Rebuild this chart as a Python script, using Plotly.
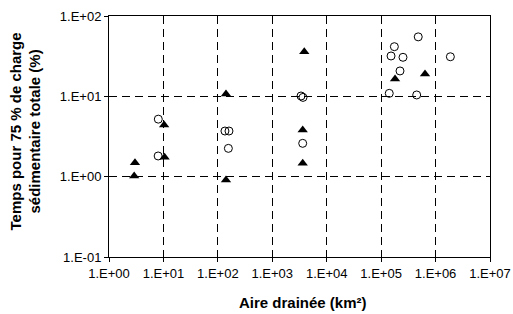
import plotly.graph_objects as go

# Triangles (filled)
tri_x = [2.9, 3.0, 10.5, 10.3, 141, 141, 3870, 3620, 3620, 1.8e5, 6.4e5]
tri_y = [1.02, 1.49, 1.74, 4.4, 10.7, 0.91, 36, 3.81, 1.47, 16.4, 19.0]

# Open circles
circ_x = [8.05, 8.0, 135, 160, 156, 3370, 3665, 3620, 4.8e5, 1.75e5, 1.52e5, 2.52e5, 1.87e6, 2.22e5, 1.41e5, 4.5e5]
circ_y = [5.2, 1.81, 3.7, 3.7, 2.25, 10.1, 9.7, 2.6, 55, 41.5, 31.8, 30.6, 31.1, 20.7, 10.9, 10.4]

x_tickvals = [1e0, 1e1, 1e2, 1e3, 1e4, 1e5, 1e6, 1e7]
x_ticktext = ["1.E+00", "1.E+01", "1.E+02", "1.E+03", "1.E+04", "1.E+05", "1.E+06", "1.E+07"]
y_tickvals = [1e-1, 1e0, 1e1, 1e2]
y_ticktext = ["1.E-01", "1.E+00", "1.E+01", "1.E+02"]

x_title = "<b>Aire drainée (km²)</b>"
y_title = "<b>Temps pour 75 % de charge<br>sédimentaire totale (%)</b>"

fig = go.Figure()
fig.add_trace(go.Scatter(
    x=circ_x, y=circ_y, mode="markers",
    marker=dict(symbol="circle-open", size=8, color="black", line=dict(width=1, color="black")),
    showlegend=False))
fig.add_trace(go.Scatter(
    x=tri_x, y=tri_y, mode="markers",
    marker=dict(symbol="triangle-up", size=9, color="black"),
    showlegend=False))

font = "Liberation Sans, Arial, sans-serif"
axis_common = dict(
    showgrid=True, gridcolor="black", griddash="8px,5px", gridwidth=1,
    showline=True, linecolor="black", linewidth=1, mirror=True,
    ticks="outside", ticklen=4, tickcolor="black",
    zeroline=False, automargin=False,
)
fig.update_layout(
    width=513, height=314,
    margin=dict(l=109, r=23, t=16, b=57),
    paper_bgcolor="white", plot_bgcolor="white",
    font=dict(family=font, size=13, color="black"),
    xaxis=dict(type="log", range=[0, 7], tickvals=x_tickvals, ticktext=x_ticktext, **axis_common),
    yaxis=dict(type="log", range=[-1, 2], tickvals=y_tickvals, ticktext=y_ticktext, **axis_common),
    annotations=[
        dict(text=x_title, xref="paper", yref="paper", x=(302.5 - 109) / 381, y=(257 - 302) / 241,
             xanchor="center", yanchor="middle", showarrow=False, font=dict(size=15)),
        dict(text=y_title, xref="paper", yref="paper", x=(25 - 109) / 381, y=(257 - 131.5) / 241,
             xanchor="center", yanchor="middle", textangle=-90, showarrow=False, font=dict(size=15)),
    ],
)
fig.write_html("out.html", config={"displayModeBar": False},
               post_script="document.body.style.margin='0';document.body.style.overflow='hidden';")
